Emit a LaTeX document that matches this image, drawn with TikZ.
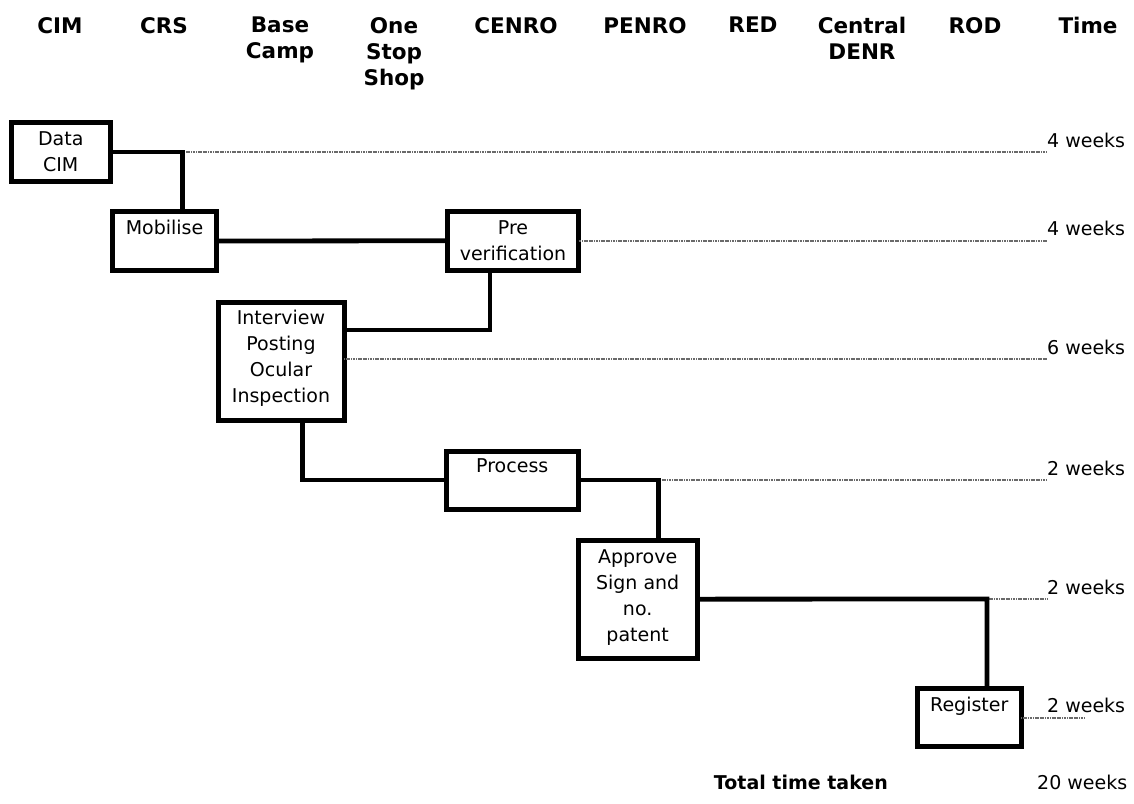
\documentclass[tikz,border=0pt]{standalone}
\usepackage{fontspec}
\setmainfont{DejaVu Sans}
\usetikzlibrary{positioning}
\definecolor{grey500}{HTML}{6A6A6A}
\tikzset{
  stage/.style   ={draw=black, line width=5pt, inner sep=0pt, outer sep=0pt},
  stagetxt/.style={align=center, inner sep=0pt,
                   font=\fontsize{19}{26}\selectfont},
  link/.style    ={draw=black, line width=4.8pt},
  lead/.style    ={draw=grey500, line width=2pt,
                   dash pattern=on 1.2pt off 0.5pt},
  hdr/.style     ={font=\fontsize{21.5}{26}\selectfont\bfseries, align=center,
                   inner sep=0pt, anchor=north},
  wk/.style      ={font=\fontsize{19}{26}\selectfont, inner sep=0pt,
                   anchor=base west}
}

\begin{document}
\begin{tikzpicture}[x=1pt, y=-1pt]
\useasboundingbox (0,0) rectangle (1134,803);

% column heads
\foreach \x/\t [count=\i] in {60/CIM, 164/CRS, 280/{Base\\Camp},
                   394/{One\\Stop\\Shop}, 516/CENRO, 645/PENRO, 753/RED,
                   862/{Central\\DENR}, 975/ROD, 1088/Time}
  \node[hdr] (h\i) at (\x,17) {\t};

% stages
\node[stage, minimum width=99.5pt, minimum height=59pt]  (data) at (60.75,152) {};
\node[stage, minimum width=104pt, minimum height=59pt]   (mob)  at (164.5,241) {};
\node[stage, minimum width=131pt, minimum height=58.5pt] (pre)  at (513,240.75) {};
\node[stage, minimum width=126pt, minimum height=118pt]  (intv) at (281,361) {};
\node[stage, minimum width=131.5pt, minimum height=58pt] (proc) at (512.25,480) {};
\node[stage, minimum width=118.7pt, minimum height=118.3pt] (appr) at (637.65,599.15) {};
\node[stage, minimum width=103.5pt, minimum height=58pt] (reg)  at (969.25,717.5) {};

\node[stagetxt, below=8.5pt of data.north] (datat) {Data\\CIM};
\node[stagetxt, below=8.5pt of mob.north]  (mobt)  {Mobilise};
\node[stagetxt, below=8.5pt of pre.north]  (pret)  {Pre\\verification};
\node[stagetxt, below=8pt of intv.north]   (intvt) {Interview\\Posting\\Ocular\\Inspection};
\node[stagetxt, below=7pt of proc.north]   (proct) {Process};
\node[stagetxt, below=9pt of appr.north]   (apprt) {Approve\\Sign and\\no.\\patent};
\node[stagetxt, below=8.5pt of reg.north]  (regt)  {Register};

% time column
\foreach \y/\t [count=\i] in {152/4, 240/4, 359/6, 480/2, 599/2, 717/2}
  \node[wk] (w\i) at (1047,\y-5) {\t\ weeks};
\node[wk, anchor=base east] (tot) at (888,789) {\bfseries Total time taken};
\node[wk] (totw) at (1037,789) {20 weeks};

% joints
\coordinate (j1) at (182.3,152);
\coordinate (j2) at (490,330);
\coordinate (j3) at (302.7,480);
\coordinate (j4) at (658.3,480);
\coordinate (j5) at (987,599);
\coordinate (j6) at (344,359);

\draw[lead] (j1) -- (j1 -| w1.west);
\draw[lead] (pre.east) -- (pre.east -| w2.west);
\draw[lead] (j6) -- (j6 -| w3.west);
\draw[lead] (j4) -- (j4 -| w4.west);
\draw[lead] (j5) -- (j5 -| w5.west);
\draw[lead] (reg.east) -- ++(63,0);

\draw[link] (data.east) -- (j1) -- (j1 |- mob.north);
\draw[link] (mob.east) -- (pre.west);
\draw[link] (j2 |- pre.south) -- (j2) -- (j2 -| intv.east);
\draw[link] (j3 |- intv.south) -- (j3) -- (proc.west);
\draw[link] (proc.east) -- (j4) -- (j4 |- appr.north);
\draw[link] (appr.east) -- (j5) -- (j5 |- reg.north);
\end{tikzpicture}
\end{document}
